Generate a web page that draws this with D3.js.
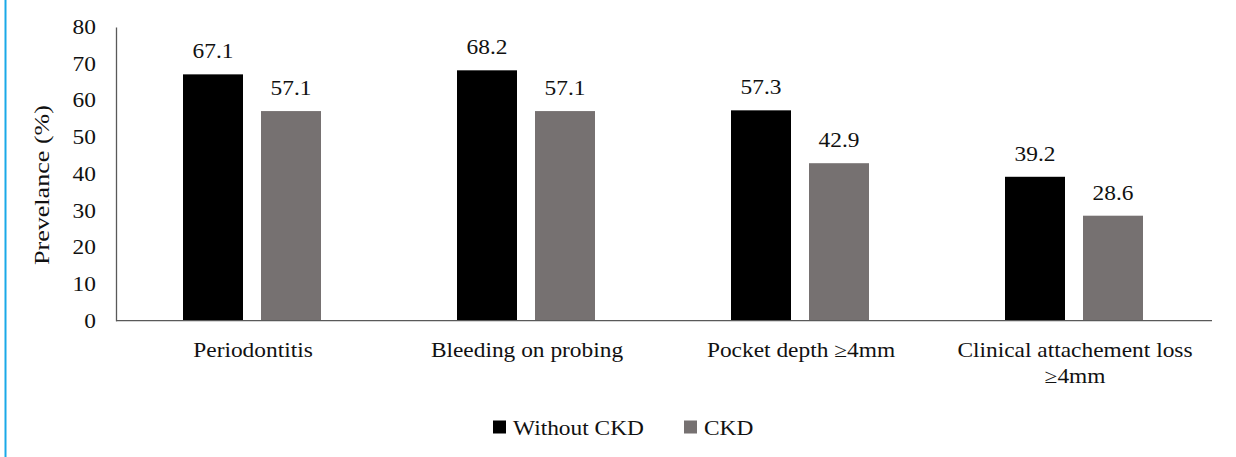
<!DOCTYPE html>
<html>
<head>
<meta charset="utf-8">
<script src="https://cdn.jsdelivr.net/npm/d3@7"></script>
<style>
  body { margin: 0; background: #fff; }
  text { font-family: "Liberation Serif", "Times New Roman", serif; fill: #111; }
</style>
</head>
<body>
<script>
// chart data
var categories = ["Periodontitis", "Bleeding on probing", "Pocket depth \u22654mm", "Clinical attachement loss|\u22654mm"];
var seriesNames = ["Without CKD", "CKD"];
var withoutCkd = [67.1, 68.2, 57.3, 39.2];
var ckd = [57.1, 57.1, 42.9, 28.6];
var yTicks = [0, 10, 20, 30, 40, 50, 60, 70, 80];

var colors = ["#000000", "#767171"];

var W = 1236, H = 457;
var stretch = 1.17; // the picture is a bit wider than tall
var svg = d3.select("body").append("svg")
	.attr("width", W)
	.attr("height", H);

// text helper, scaled horizontally around its anchor
function label(t, px, py, anchor, size) {
	return svg.append("text")
		.attr("transform", "translate(" + px + "," + py + ") scale(" + stretch + ",1)")
		.attr("text-anchor", anchor)
		.style("font-size", size + "px")
		.text(t);
}

// blue frame line on the left
svg.append("line")
	.attr("x1", 5.5).attr("x2", 5.5)
	.attr("y1", 0).attr("y2", H)
	.attr("stroke", "#1aa9e8")
	.attr("stroke-width", 2);

var plotLeft = 116, plotRight = 1212, plotTop = 27, plotBottom = 320.7;

var x = d3.scaleBand().domain(categories).range([plotLeft, plotRight]);
var y = d3.scaleLinear().domain([0, 80]).range([plotBottom, plotTop]);

// y axis
var yAxis = svg.append("g")
	.attr("transform", "translate(" + plotLeft + ",0)")
	.call(d3.axisLeft(y).tickValues(yTicks).tickSize(0).tickPadding(0));
yAxis.select(".domain").attr("stroke", "#595959").attr("stroke-width", 1.3);
yAxis.selectAll(".tick text").remove();
yTicks.forEach(function(v) {
	label(v, 96, y(v) + 7, "end", 20);
});

// bars
var barW = 60, gap = 18;
var table = categories.map(function(c, i) {
	return { cat: c, vals: [withoutCkd[i], ckd[i]] };
});

table.forEach(function(d) {
	var center = x(d.cat) + x.bandwidth() / 2 - 1;
	d.vals.forEach(function(v, k) {
		var bx = k == 0 ? center - gap / 2 - barW : center + gap / 2;
		svg.append("rect")
			.attr("x", bx)
			.attr("y", y(v))
			.attr("width", barW)
			.attr("height", y(0) - y(v))
			.attr("fill", colors[k]);
		label(v.toFixed(1), bx + barW / 2, y(v) - 16, "middle", 20);
	});
});

// x axis line
svg.append("line")
	.attr("x1", plotLeft).attr("x2", plotRight)
	.attr("y1", plotBottom).attr("y2", plotBottom)
	.attr("stroke", "#595959")
	.attr("stroke-width", 1.3);

// category labels
categories.forEach(function(c) {
	var lines = c.split("|");
	var cx = x(c) + x.bandwidth() / 2;
	lines.forEach(function(t, j) {
		label(t, cx, 357 + j * 26, "middle", 20);
	});
});

// y title
svg.append("text")
	.attr("transform", "translate(49,185) rotate(-90)")
	.attr("text-anchor", "middle")
	.attr("textLength", 160)
	.attr("lengthAdjust", "spacingAndGlyphs")
	.style("font-size", "22px")
	.text("Prevelance (%)");

// legend
var legX = [493, 684];
seriesNames.forEach(function(s, k) {
	svg.append("rect")
		.attr("x", legX[k]).attr("y", 420.5)
		.attr("width", 13).attr("height", 13)
		.attr("fill", colors[k]);
	label(s, legX[k] + 20, 435, "start", 20);
});
</script>
</body>
</html>
